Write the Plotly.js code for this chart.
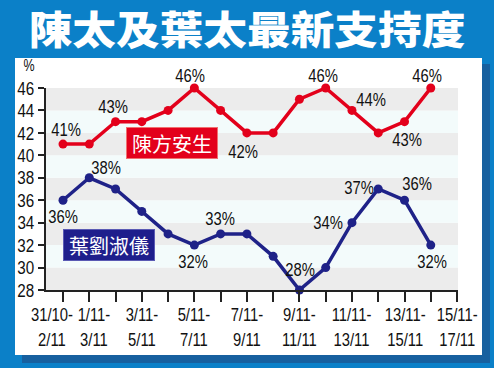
<!DOCTYPE html>
<html>
<head>
<meta charset="utf-8">
<script src="https://cdn.plot.ly/plotly-3.0.1.min.js"></script>
<style>html,body{margin:0;padding:0;background:#0b80c8;}#chart{width:494px;height:368px;}</style>
</head>
<body>
<div id="chart"></div>
<script>
// ---- data ----
const periods = ["31/10-2/11","1/11-3/11","2/11-4/11","3/11-5/11","4/11-6/11","5/11-7/11","6/11-8/11","7/11-9/11","8/11-10/11","9/11-11/11","10/11-12/11","11/11-13/11","12/11-14/11","13/11-15/11","14/11-16/11","15/11-17/11"];
const chanSupport = [41,41,43,43,44,46,44,42,42,45,46,44,42,43,46];
const ipSupport   = [36,38,37,35,33,32,33,33,31,28,30,34,37,36,32];
const chanName = "陳方安生";
const ipName = "葉劉淑儀";
const yTicks = [28,30,32,34,36,38,40,42,44,46];
const labeledTicks = [0,1,3,5,7,9,11,13,15];
const chartTitle = "陳太及葉太最新支持度";

// ---- styling / label placement ----
const RED = "#e3001b", NAVY = "#1f2288";
const FONT = "'Liberation Sans',Arial,sans-serif";
const CJK = "'Noto Sans CJK TC','Noto Sans CJK SC',sans-serif";
const FS = 19;
// [index, xshift, yshift]
const chanLabelPos = [[0,3,15],[2,-3,15],[5,-4,13],[7,-4,-19],[10,-3,13],[11,19,11],[13,2,-18],[14,-4,13]];
const ipLabelPos = [[0,0,-16],[1,17,10],[5,-1,-16],[6,-1,15],[9,1,21],[11,-24,0],[12,-19,2],[13,12,17],[14,1,-16]];
const xLabelShift = {0: -11, 1: 5};

const L = 46, R = 458, T = 88, B = 290, W = 494, H = 368;
const pxX = p => (p - L) / (R - L);
const pxY = p => (B - p) / (B - T);

const idx = chanSupport.map((_, i) => i);

const traces = [
  {x: idx, y: chanSupport, name: chanName, type: "scatter", mode: "lines+markers",
   line: {color: RED, width: 3.5}, marker: {color: RED, size: 9}, cliponaxis: false},
  {x: idx, y: ipSupport, name: ipName, type: "scatter", mode: "lines+markers",
   line: {color: NAVY, width: 3.5}, marker: {color: NAVY, size: 9}, cliponaxis: false}
];

const shapes = [];
shapes.push({type: "rect", xref: "paper", yref: "paper", layer: "below",
  x0: pxX(22), x1: pxX(490), y0: pxY(64), y1: pxY(363), fillcolor: "#17609f", line: {width: 0}});
shapes.push({type: "rect", xref: "paper", yref: "paper", layer: "below",
  x0: pxX(15), x1: pxX(482), y0: pxY(58), y1: pxY(355), fillcolor: "#ffffff", line: {width: 0}});
for (let i = 0; i < yTicks.length - 1; i++) {
  shapes.push({type: "rect", xref: "paper", yref: "y", layer: "below",
    x0: 0, x1: 1, y0: yTicks[i], y1: yTicks[i + 1],
    fillcolor: (i % 2 === 0) ? "#ececec" : "#f3fbfb", line: {width: 0}});
}

const annotations = [];
labeledTicks.forEach(i => {
  const parts = periods[i].split("-");
  annotations.push({x: i, y: 0, xref: "x", yref: "paper", xanchor: "center", yanchor: "top",
    yshift: -12, xshift: xLabelShift[i] || 0, showarrow: false,
    text: parts[0] + "-<br>" + parts[1], align: "center",
    font: {family: FONT, size: FS, color: "#111"}});
});
chanLabelPos.forEach(([i, dx, dy]) => annotations.push({x: i, y: chanSupport[i], xref: "x", yref: "y",
  showarrow: false, xshift: dx, yshift: dy, text: chanSupport[i] + "%",
  font: {family: FONT, size: FS, color: "#111"}}));
ipLabelPos.forEach(([i, dx, dy]) => annotations.push({x: i, y: ipSupport[i], xref: "x", yref: "y",
  showarrow: false, xshift: dx, yshift: dy, text: ipSupport[i] + "%",
  font: {family: FONT, size: FS, color: "#111"}}));
annotations.push({x: 4.15, y: 41.06, xref: "x", yref: "y", showarrow: false, text: chanName,
  bgcolor: RED, bordercolor: "#f07070", borderwidth: 1, borderpad: 3, width: 84, height: 24,
  font: {family: CJK, size: 20, color: "#fff"}});
annotations.push({x: 1.75, y: 31.97, xref: "x", yref: "y", showarrow: false, text: ipName,
  bgcolor: "#1e1e8c", bordercolor: "#5a5ab4", borderwidth: 1, borderpad: 3, width: 84, height: 24,
  font: {family: CJK, size: 20, color: "#fff"}});
annotations.push({x: pxX(29), y: pxY(66), xref: "paper", yref: "paper", xanchor: "center", yanchor: "middle",
  showarrow: false, text: "%", font: {family: FONT, size: 16, color: "#111"}});

const layout = {
  width: W, height: H,
  margin: {l: L, r: W - R, t: T, b: H - B, pad: 0},
  paper_bgcolor: "#0b80c8",
  plot_bgcolor: "rgba(0,0,0,0)",
  showlegend: false,
  title: {text: chartTitle, x: 0.5, xref: "container", xanchor: "center",
    y: 1 - 30.5 / H, yref: "container", yanchor: "middle",
    font: {family: CJK, size: 39, color: "#ffffff", weight: 900}},
  xaxis: {range: [(L - 63) / 26.27, (R - 63) / 26.27], tickmode: "array", tickvals: periods.map((_, i) => i),
    showticklabels: false, ticks: "outside", ticklen: 10, tickwidth: 2, tickcolor: "#222",
    showline: true, linecolor: "#222", linewidth: 2, showgrid: false, zeroline: false, fixedrange: true},
  yaxis: {range: [28, 46], tickmode: "array", tickvals: yTicks, ticktext: yTicks.map(String),
    ticks: "outside", ticklen: 6, tickwidth: 2, tickcolor: "#222",
    showline: true, linecolor: "#222", linewidth: 2, showgrid: false, zeroline: false,
    tickfont: {family: FONT, size: FS, color: "#111"}, fixedrange: true},
  shapes: shapes,
  annotations: annotations
};

function condense() {
  const root = document.getElementById("chart");
  root.querySelectorAll("text.annotation-text").forEach(t => {
    if ((t.style.fontFamily || "").indexOf("Liberation") >= 0) {
      t.style.transformBox = "fill-box";
      t.style.transformOrigin = "center";
      t.style.transform = "scaleX(0.78)";
    }
  });
  root.querySelectorAll("g.ytick").forEach(g => {
    g.style.transformBox = "fill-box";
    g.style.transformOrigin = "right center";
    g.style.transform = "scaleX(0.8)";
  });
  const tt = root.querySelector("text.gtitle");
  if (tt) {
    tt.style.transformBox = "fill-box";
    tt.style.transformOrigin = "center";
    tt.style.transform = "scaleX(1.12)";
  }
}

Plotly.newPlot("chart", traces, layout, {displayModeBar: false, staticPlot: true}).then(condense);
</script>
</body>
</html>
